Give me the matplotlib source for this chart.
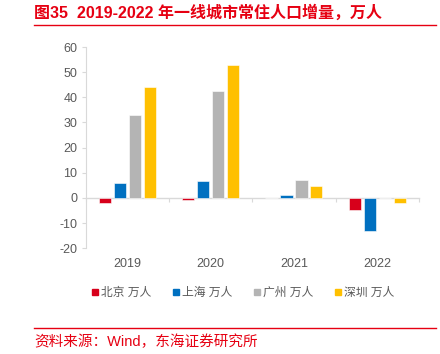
import numpy as np
import matplotlib
matplotlib.use("Agg")
from matplotlib import pyplot as plt
from matplotlib.lines import Line2D

plt.rcParams['font.family'] = ['Liberation Sans', 'Noto Sans CJK SC', 'DejaVu Sans']
plt.rcParams['axes.unicode_minus'] = False

years = ['2019', '2020', '2021', '2022']
series = ['北京 万人', '上海 万人', '广州 万人', '深圳 万人']
beijing = [-2.0, -0.8, 0.0, -4.8]
shanghai = [5.8, 6.9, 1.0, -13.1]
guangzhou = [33.0, 42.7, 7.0, 0.0]
shenzhen = [44.2, 52.9, 4.8, -2.0]
colours = ['#D7001B', '#0070C0', '#B4B4B4', '#FFC000']

red = '#E60012'
grey_txt = '#595959'
axis_col = '#D9D9D9'

fig = plt.figure(figsize=(4.4, 3.54), dpi=100)
ax = fig.add_axes([0.195, 0.299, 0.757, 0.568])

x = np.arange(len(years))
w = 0.145
step = 0.18
for i, vals in enumerate([beijing, shanghai, guangzhou, shenzhen]):
    ax.bar(x + (i - 1.5) * step, vals, width=w, color=colours[i],
           edgecolor='white', linewidth=0.4, label=series[i], zorder=3)

ax.set_xlim(-0.5, 3.5)
ax.set_ylim(-20, 60)
ax.set_yticks(range(-20, 61, 10))
ax.tick_params(axis='y', colors=axis_col, labelcolor=grey_txt, labelsize=9, length=3, width=0.8, pad=3)

for s in ['top', 'right']:
    ax.spines[s].set_visible(False)
ax.spines['left'].set_color(axis_col)
ax.spines['left'].set_linewidth(0.8)
ax.spines['bottom'].set_position(('data', 0))
ax.spines['bottom'].set_color(axis_col)
ax.spines['bottom'].set_linewidth(1.0)

ax.set_xticks(x)
ax.set_xticklabels(years)
ax.set_xticks(np.arange(-0.5, 4.0, 1.0), minor=True)
ax.tick_params(axis='x', which='major', length=0, pad=43, labelsize=9, labelcolor=grey_txt)
ax.tick_params(axis='x', which='minor', length=3, width=0.8, color=axis_col, direction='out')

handles = [Line2D([], [], marker='s', linestyle='none', markersize=4.5,
                  markerfacecolor=c, markeredgecolor=c) for c in colours]
fig.legend(handles, series, loc='center', bbox_to_anchor=(0.55, 0.172), ncol=4,
           frameon=False, fontsize=8.5, handletextpad=0.0, columnspacing=1.6,
           handlelength=1.0, labelcolor=grey_txt)

fig.text(0.077, 0.965, '图35  2019-2022 年一线城市常住人口增量，万人', color=red,
         fontsize=11.5, fontweight='bold', va='center', ha='left')
fig.add_artist(Line2D([0.077, 0.99], [0.929, 0.929], color=red, linewidth=1.0))
fig.add_artist(Line2D([0.077, 0.99], [0.073, 0.073], color=red, linewidth=1.0))
fig.text(0.077, 0.035, '资料来源：Wind，东海证券研究所', color=red, fontsize=10.5,
         va='center', ha='left')

fig.savefig('out.png', dpi=100)
